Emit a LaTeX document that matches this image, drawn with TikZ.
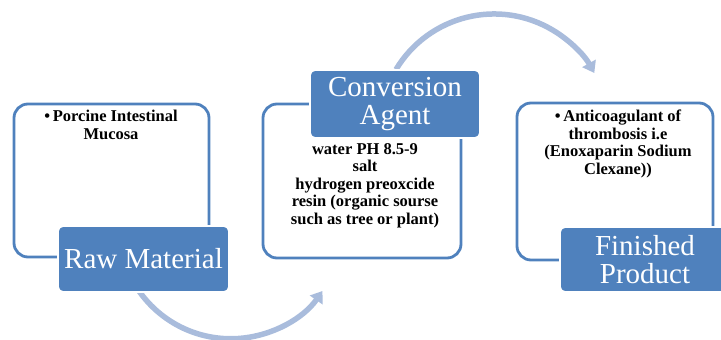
\documentclass[tikz,border=0pt]{standalone}
\usepackage{fontspec}
\setmainfont{Liberation Serif}
\usetikzlibrary{arrows.meta}
\definecolor{accent}{HTML}{4F81BD}
\definecolor{arrowc}{HTML}{A9BCDC}
\tikzset{
  panel/.style={draw=accent, line width=2.8pt, rounded corners=14pt, fill=white},
  tag/.style={fill=accent, draw=white, line width=1.8pt, rounded corners=5pt, text=white,
    font=\fontsize{29}{28}\selectfont, align=center, inner sep=0pt},
  body/.style={font=\fontsize{16.5}{17.5}\selectfont\bfseries, align=center, inner sep=0pt},
  flow/.style={draw=arrowc, line width=5.5pt, -{Triangle[width=15pt,length=11pt]}},
}
\begin{document}
\begin{tikzpicture}[x=1pt,y=1pt]
\useasboundingbox (0,0) rectangle (721,340);
% arcs
\coordinate (a1s) at (139,49);
\coordinate (a2s) at (396,270.5);
\draw[flow] (a1s) arc[start angle=215, end angle=325, radius=112];
\draw[flow] (a2s) arc[start angle=149, end angle=29, radius=114.5];
% panels
\node[panel, minimum width=195pt, minimum height=153pt] (p1) at (111.5,159.5) {};
\node[panel, minimum width=198pt, minimum height=154pt] (p2) at (362,159) {};
\node[panel, minimum width=196pt, minimum height=157pt] (p3) at (615,158.5) {};
% texts
\node[body, anchor=north] (t1) at (111,230) {\textbullet\,Porcine Intestinal\\Mucosa};
\node[body, anchor=north] (t2) at (365,197) {water PH 8.5-9\\salt\\hydrogen preoxcide\\resin (organic sourse\\such as tree or plant)};
\node[body, anchor=north] (t3) at (618,230) {\textbullet\,Anticoagulant of\\thrombosis i.e\\(Enoxaparin Sodium\\Clexane))};
% tags
\node[tag, minimum width=171pt, minimum height=66pt] (l1) at (143.5,81) {Raw Material};
\node[tag, minimum width=170pt, minimum height=68pt] (l2) at (395,236) {Conversion\\Agent};
\node[tag, minimum width=170pt, minimum height=65pt] (l3) at (645,80.5) {Finished\\Product};
\end{tikzpicture}
\end{document}
